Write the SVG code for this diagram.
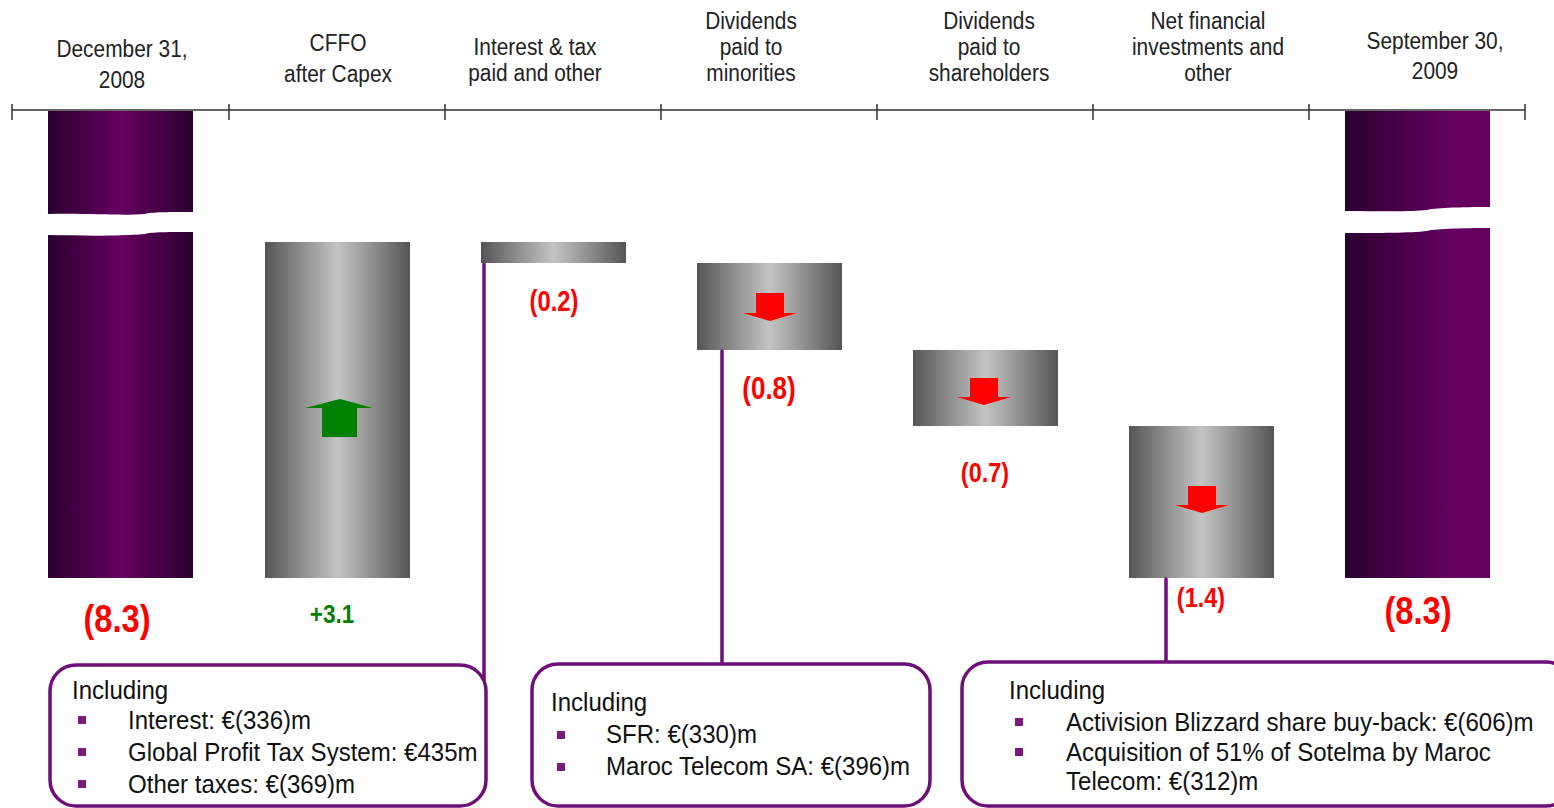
<svg xmlns="http://www.w3.org/2000/svg" width="1554" height="808" viewBox="0 0 1554 808">
<defs>
<linearGradient id="gPurp" x1="0" y1="0" x2="1" y2="0">
<stop offset="0" stop-color="#2b0030"/><stop offset="0.5" stop-color="#66005f"/><stop offset="1" stop-color="#2b0030"/>
</linearGradient>
<linearGradient id="gPurp2" x1="0" y1="0" x2="1" y2="0">
<stop offset="0" stop-color="#2b0030"/><stop offset="0.75" stop-color="#66005f"/><stop offset="1" stop-color="#66005f"/>
</linearGradient>
<linearGradient id="gGray" x1="0" y1="0" x2="1" y2="0">
<stop offset="0" stop-color="#555"/><stop offset="0.5" stop-color="#c4c4c4"/><stop offset="1" stop-color="#555"/>
</linearGradient>
<style>
text{font-family:"Liberation Sans",Arial,sans-serif;}
.hd{font-size:22px;fill:#222;text-anchor:middle;}
.val{fill:#f00;text-anchor:middle;font-weight:bold;}
.bx{font-size:26px;fill:#111;}
.box{fill:#fff;stroke:#6e0f78;stroke-width:3.5;}
.con{stroke:#6e0f78;stroke-width:3.5;fill:none;stroke-linecap:round;}
.bul{fill:#7a1a80;}
.ax{stroke:#333;stroke-width:1.5;}
</style>
</defs>
<g id="axis">
<line class="ax" x1="12" y1="110" x2="1525" y2="110"/>
<path class="ax" d="M12 104V120M229 104V120M445 104V120M661 104V120M877 104V120M1093 104V120M1309 104V120M1525 104V120" stroke-width="1"/>
</g>
<g id="headers">
<text class="hd" transform="translate(122 57) scale(0.95 1.08)">December 31,</text>
<text class="hd" transform="translate(122 88) scale(0.95 1.08)">2008</text>
<text class="hd" transform="translate(338 51) scale(0.95 1.08)">CFFO</text>
<text class="hd" transform="translate(338 82) scale(0.95 1.08)">after Capex</text>
<text class="hd" transform="translate(535 55) scale(0.95 1.08)">Interest &amp; tax</text>
<text class="hd" transform="translate(535 81) scale(0.95 1.08)">paid and other</text>
<text class="hd" transform="translate(751 29) scale(0.95 1.08)">Dividends</text>
<text class="hd" transform="translate(751 55) scale(0.95 1.08)">paid to</text>
<text class="hd" transform="translate(751 81) scale(0.95 1.08)">minorities</text>
<text class="hd" transform="translate(989 29) scale(0.95 1.08)">Dividends</text>
<text class="hd" transform="translate(989 55) scale(0.95 1.08)">paid to</text>
<text class="hd" transform="translate(989 81) scale(0.95 1.08)">shareholders</text>
<text class="hd" transform="translate(1208 29) scale(0.95 1.08)">Net financial</text>
<text class="hd" transform="translate(1208 55) scale(0.95 1.08)">investments and</text>
<text class="hd" transform="translate(1208 81) scale(0.95 1.08)">other</text>
<text class="hd" transform="translate(1435 49) scale(0.95 1.08)">September 30,</text>
<text class="hd" transform="translate(1435 79) scale(0.95 1.08)">2009</text>
</g>
<g id="bar-dec2008">
<rect x="48" y="111" width="145" height="467" fill="url(#gPurp)"/>
<path d="M47 214 C90 213 120 216 145 214 C150 212 170 212 194 212 L194 232 C170 232 150 232 145 234 C120 236 90 236 47 235 Z" fill="#fff"/>
<text class="val" font-size="38" transform="translate(117 632) scale(0.86 1)">(8.3)</text>
</g>
<g id="bar-cffo">
<rect x="265" y="242" width="145" height="336" fill="url(#gGray)"/>
<path d="M322 437V408H305L340 399L373 408H357V437Z" fill="#008000"/>
<text class="val" font-size="25" style="fill:#008000" transform="translate(332 623) scale(0.9 1)">+3.1</text>
</g>
<g id="bar-interest">
<rect x="481" y="242" width="145" height="21" fill="url(#gGray)"/>
<text class="val" font-size="29" transform="translate(554 311) scale(0.82 1)">(0.2)</text>
</g>
<g id="bar-minorities">
<rect x="697" y="263" width="145" height="87" fill="url(#gGray)"/>
<path d="M756 293H784V313H797L770 321L743 313H756Z" fill="#f00"/>
<text class="val" font-size="31" transform="translate(769 399) scale(0.84 1)">(0.8)</text>
</g>
<g id="bar-shareholders">
<rect x="913" y="350" width="145" height="76" fill="url(#gGray)"/>
<path d="M970 378H998V397H1011L984 405L957 397H970Z" fill="#f00"/>
<text class="val" font-size="28" transform="translate(985 482) scale(0.84 1)">(0.7)</text>
</g>
<g id="bar-netfin">
<rect x="1129" y="426" width="145" height="152" fill="url(#gGray)"/>
<path d="M1188 486H1216V505H1229L1202 513L1175 505H1188Z" fill="#f00"/>
<text class="val" font-size="28" transform="translate(1201 607) scale(0.84 1)">(1.4)</text>
</g>
<g id="bar-sep2009">
<rect x="1345" y="111" width="145" height="467" fill="url(#gPurp2)"/>
<path d="M1344 211 C1380 211 1410 212 1427 210 C1432 208 1460 207 1491 207 L1491 228 C1460 228 1432 229 1427 231 C1410 233 1380 233 1344 233 Z" fill="#fff"/>
<text class="val" font-size="38" transform="translate(1418 624) scale(0.86 1)">(8.3)</text>
</g>
<g id="connectors">
<line class="con" x1="484" y1="264" x2="484" y2="680"/>
<line class="con" x1="722" y1="351" x2="722" y2="662"/>
<line class="con" x1="1166" y1="579" x2="1166" y2="662"/>
</g>
<g id="box-interest">
<rect class="box" x="50" y="665" width="436" height="141" rx="26"/>
<text class="bx" transform="translate(72 699) scale(0.925 1)">Including</text>
<rect class="bul" x="78" y="716" width="8" height="8"/><text class="bx" transform="translate(128 729) scale(0.925 1)">Interest: €(336)m</text>
<rect class="bul" x="78" y="748" width="8" height="8"/><text class="bx" transform="translate(128 761) scale(0.925 1)">Global Profit Tax System: €435m</text>
<rect class="bul" x="78" y="780" width="8" height="8"/><text class="bx" transform="translate(128 793) scale(0.925 1)">Other taxes: €(369)m</text>
</g>
<g id="box-minorities">
<rect class="box" x="532" y="664" width="398" height="142" rx="26"/>
<text class="bx" transform="translate(551 711) scale(0.925 1)">Including</text>
<rect class="bul" x="557" y="731" width="8" height="8"/><text class="bx" transform="translate(606 743) scale(0.925 1)">SFR: €(330)m</text>
<rect class="bul" x="557" y="763" width="8" height="8"/><text class="bx" transform="translate(606 775) scale(0.925 1)">Maroc Telecom SA: €(396)m</text>
</g>
<g id="box-netfin">
<rect class="box" x="962" y="662" width="610" height="144" rx="26"/>
<text class="bx" transform="translate(1009 699) scale(0.925 1)">Including</text>
<rect class="bul" x="1015" y="718" width="8" height="8"/><text class="bx" transform="translate(1066 731) scale(0.925 1)">Activision Blizzard share buy-back: €(606)m</text>
<rect class="bul" x="1015" y="748" width="8" height="8"/><text class="bx" transform="translate(1066 761) scale(0.925 1)">Acquisition of 51% of Sotelma by Maroc</text>
<text class="bx" transform="translate(1066 790) scale(0.925 1)">Telecom: €(312)m</text>
</g>
</svg>
